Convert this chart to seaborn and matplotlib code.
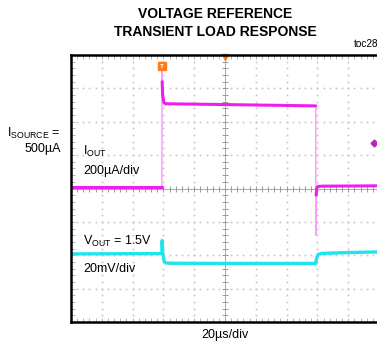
import numpy as np
import pandas as pd
import seaborn as sns
from matplotlib import pyplot as plt

# scope settings
T_DIV = 20.0        # us/div
I_DIV = 200.0       # uA/div
V_DIV = 20.0        # mV/div
V_POS = -1.96       # VOUT channel position (div)

# IOUT trace (uA), pieces of the waveform
iout_t_lo = [0, 59.0]
iout_lo = [6, 6]
iout_t_up = [59.0, 59.1, 59.2]
iout_up = [6, 760, 640]
iout_t_hi = [59.2, 59.5, 60.3, 61.5, 100, 158.9]
iout_hi = [640, 560, 515, 508, 503, 495]
iout_t_dn = [158.9, 159.05, 159.2]
iout_dn = [495, -280, -40]
iout_t_end = [159.2, 159.6, 160.5, 163, 200]
iout_end = [-40, 5, 12, 14, 16]

# VOUT deviation from 1.5V (mV)
vout_t = [0, 59.0, 59.2, 59.6, 60.5, 61.5, 65, 100, 158.9, 159.5, 160.5, 163, 180, 200]
vout_mv = [0, 0.2, 8.0, 0.5, -4.5, -5.4, -5.6, -5.7, -5.7, -2.5, -0.3, 0.3, 0.8, 1.2]

sns.set_style('white')
plt.rcParams['font.family'] = ['Liberation Sans', 'DejaVu Sans']
plt.rcParams['text.color'] = 'black'
plt.rcParams['mathtext.fontset'] = 'custom'
plt.rcParams['mathtext.rm'] = 'Liberation Sans'

W, H = 377, 347
fig = plt.figure(figsize=(W / 100, H / 100), dpi=100)
ax = fig.add_axes([71 / W, 25 / H, 308 / W, 267 / H])
ax.set_xlim(0, 10 * T_DIV)
ax.set_ylim(-4, 4)

# graticule: dotted grid + tick marks on centre axes
minor_x = np.arange(0, 10 * T_DIV + 0.01, T_DIV / 5)
minor_y = np.arange(-4, 4.01, 0.2)
gcol = '#c4c4c4'
for yy in range(-3, 4):
    if yy == 0:
        continue
    ax.plot(minor_x, np.full_like(minor_x, yy), ls='none', marker='s', ms=1.2, color=gcol, mew=0)
for k in range(1, 10):
    xx = k * T_DIV
    if k == 5:
        continue
    ax.plot(np.full_like(minor_y, xx), minor_y, ls='none', marker='s', ms=1.2, color=gcol, mew=0)
ax.axhline(0, color='#9a9a9a', lw=0.6)
ax.axvline(5 * T_DIV, color='#9a9a9a', lw=0.6)
ax.plot(minor_x, np.zeros_like(minor_x), ls='none', marker='|', ms=4, color='#9a9a9a', mew=0.7)
ax.plot(np.full_like(minor_y, 5 * T_DIV), minor_y, ls='none', marker='_', ms=4, color='#9a9a9a', mew=0.7)

# border ticks
ax.set_xticks(minor_x, minor=True)
ax.set_yticks(minor_y, minor=True)
ax.set_xticks([])
ax.set_yticks([])
ax.tick_params(which='minor', direction='in', length=3, width=0.6, color='#a8a8a8',
               top=True, bottom=True, left=True, right=False,
               labelbottom=False, labelleft=False)
for s in ['left', 'top', 'bottom']:
    ax.spines[s].set_linewidth(1.8)
    ax.spines[s].set_color('black')
ax.spines['right'].set_visible(False)

# traces
mag = '#ee1fee'
pink = '#ff9cff'
cyan = '#1fe4ee'
segs = [(iout_t_lo, iout_lo), (iout_t_hi, iout_hi), (iout_t_end, iout_end)]
df_i = pd.concat([pd.DataFrame({'t': t, 'div': np.array(v) / I_DIV, 'seg': n})
                  for n, (t, v) in enumerate(segs)])
edges = [(iout_t_up, iout_up), (iout_t_dn, iout_dn)]
df_e = pd.concat([pd.DataFrame({'t': t, 'div': np.array(v) / I_DIV, 'seg': n})
                  for n, (t, v) in enumerate(edges)])
df_v = pd.DataFrame({'t': vout_t, 'div': np.array(vout_mv) / V_DIV + V_POS})

sns.lineplot(data=df_e, x='t', y='div', units='seg', estimator=None, sort=False,
             color=pink, lw=1.1, ax=ax)
sns.lineplot(data=df_i, x='t', y='div', units='seg', estimator=None, sort=False,
             color=mag, lw=2.2, ax=ax)
sns.lineplot(data=df_v, x='t', y='div', estimator=None, sort=False,
             color=cyan, lw=2.4, ax=ax)
ax.set_xlabel('')
ax.set_ylabel('')

# markers: trigger, trigger position, trigger level
ax.plot([58.8], [3.66], marker='s', ms=6, color='#ff7a1a', clip_on=False)
ax.text(58.8, 3.66, 'T', color='white', fontsize=4.5, ha='center', va='center', fontweight='bold')
ax.plot([5 * T_DIV], [3.93], marker='v', ms=5, color='#ff7a1a', clip_on=False)
ax.plot([196.5], [1.36], marker='D', ms=3.5, color='#c020c0')

# texts
def ftext(x, y, s, **kw):
    fig.text(x / W, 1 - y / H, s, **kw)

ftext(215, 14, 'VOLTAGE REFERENCE', ha='center', va='center', fontsize=10, fontweight='bold')
ftext(215, 32, 'TRANSIENT LOAD RESPONSE', ha='center', va='center', fontsize=10, fontweight='bold')
ftext(354, 44, 'toc28', ha='left', va='center', fontsize=7.2)
ftext(61, 133, r'$\mathrm{I}_{\mathrm{SOURCE}}$ =', ha='right', va='center', fontsize=9)
ftext(61, 149, '500µA', ha='right', va='center', fontsize=9)
ftext(83, 151, r'$\mathrm{I}_{\mathrm{OUT}}$', ha='left', va='center', fontsize=9)
ftext(83, 171, '200µA/div', ha='left', va='center', fontsize=9)
ftext(83, 241, r'$\mathrm{V}_{\mathrm{OUT}}$ = 1.5V', ha='left', va='center', fontsize=9)
ftext(83, 269, '20mV/div', ha='left', va='center', fontsize=9)
ftext(225, 335, '20µs/div', ha='center', va='center', fontsize=9)

fig.savefig('out.png', dpi=100)
